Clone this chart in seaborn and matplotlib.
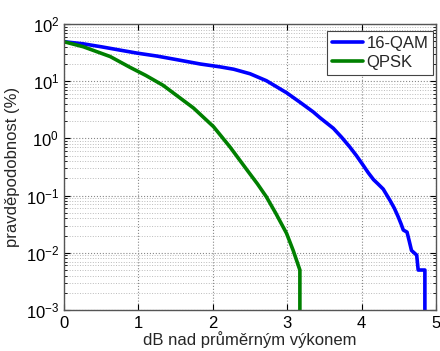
import matplotlib
matplotlib.use("Agg")
import matplotlib.pyplot as plt
import seaborn as sns
import pandas as pd
from matplotlib.ticker import LogLocator, FixedLocator

# Data (x in dB, y in %)
qam_x = [0, 0.26, 0.5, 0.75, 0.98, 1.25, 1.5, 1.83, 2.1, 2.28, 2.5, 2.72, 2.99,
         3.17, 3.35, 3.44, 3.62, 3.73, 3.84, 3.93, 4.02, 4.09, 4.16, 4.22,
         4.29, 4.38, 4.44, 4.49, 4.53, 4.56, 4.61, 4.64, 4.67, 4.74, 4.76, 4.85, 4.85]
qam_y = [49, 45, 40, 35, 31, 27.5, 24, 20, 17.8, 16.2, 13.5, 10.2, 6.3,
         4.3, 2.9, 2.3, 1.5, 1.05, 0.71, 0.5, 0.34, 0.25, 0.19, 0.16,
         0.13, 0.083, 0.06, 0.043, 0.032, 0.025, 0.023, 0.016, 0.011, 0.0091, 0.005, 0.005, 0.001]
qpsk_x = [0, 0.26, 0.62, 0.89, 1.1, 1.33, 1.55, 1.74, 2.01, 2.23, 2.46,
          2.6, 2.72, 2.85, 2.99, 3.08, 3.17, 3.17]
qpsk_y = [49, 40, 27, 17.4, 12.6, 8.5, 5.2, 3.4, 1.6, 0.71, 0.28,
          0.16, 0.095, 0.048, 0.022, 0.011, 0.005, 0.001]
series_names = ["16-QAM", "QPSK"]
x_ticks = [0, 1, 2, 3, 4, 5]

sns.set_style("ticks")
plt.rcParams['font.family'] = ['Liberation Sans', 'DejaVu Sans']
plt.rcParams['mathtext.fontset'] = 'custom'
plt.rcParams['mathtext.rm'] = 'Liberation Sans'

df = pd.concat([
    pd.DataFrame({"x": qam_x, "y": qam_y, "s": series_names[0]}),
    pd.DataFrame({"x": qpsk_x, "y": qpsk_y, "s": series_names[1]}),
])

fig = plt.figure(figsize=(4.4, 3.51), dpi=100)
ax = fig.add_axes([0.1455, 0.1168, 0.8455, 0.8148])

sns.lineplot(data=df, x="x", y="y", hue="s", palette=["#0000ff", "#008000"],
             sort=False, estimator=None, linewidth=2.6, ax=ax)

ax.set_yscale("log")
ax.set_xlim(0, 5)
ax.set_ylim(1e-3, 1e2)
ax.xaxis.set_major_locator(FixedLocator(x_ticks))
ax.yaxis.set_major_locator(LogLocator(base=10, numticks=10))
ax.yaxis.set_minor_locator(LogLocator(base=10, subs=range(2, 10), numticks=20))

ax.grid(True, which="major", linestyle=":", color="#888888", linewidth=0.8)
ax.grid(True, which="minor", axis="y", linestyle=":", color="#bbbbbb", linewidth=0.7)

ax.tick_params(axis="both", which="both", direction="in", top=True, right=True,
               labelsize=12, colors="#000000")
ax.tick_params(which="major", length=4)
ax.tick_params(which="minor", length=2)
ax.tick_params(axis="x", pad=4)
for sp in ax.spines.values():
    sp.set_color("#555555")
    sp.set_linewidth(1.0)

ax.set_xlabel("dB nad průměrným výkonem", fontsize=12, labelpad=0)
ax.set_ylabel("pravděpodobnost (%)", fontsize=12, labelpad=4)

leg = ax.legend(loc="upper right", bbox_to_anchor=(0.993, 0.975), fontsize=12,
                frameon=True, fancybox=False, handlelength=1.9, handletextpad=0.2,
                borderpad=0.3, labelspacing=0.25, borderaxespad=0)
leg.get_frame().set_edgecolor("#444444")
leg.get_frame().set_linewidth(0.8)
leg.get_frame().set_alpha(1)
for line in leg.get_lines():
    line.set_linewidth(2.6)

fig.savefig("out.png", dpi=100)
